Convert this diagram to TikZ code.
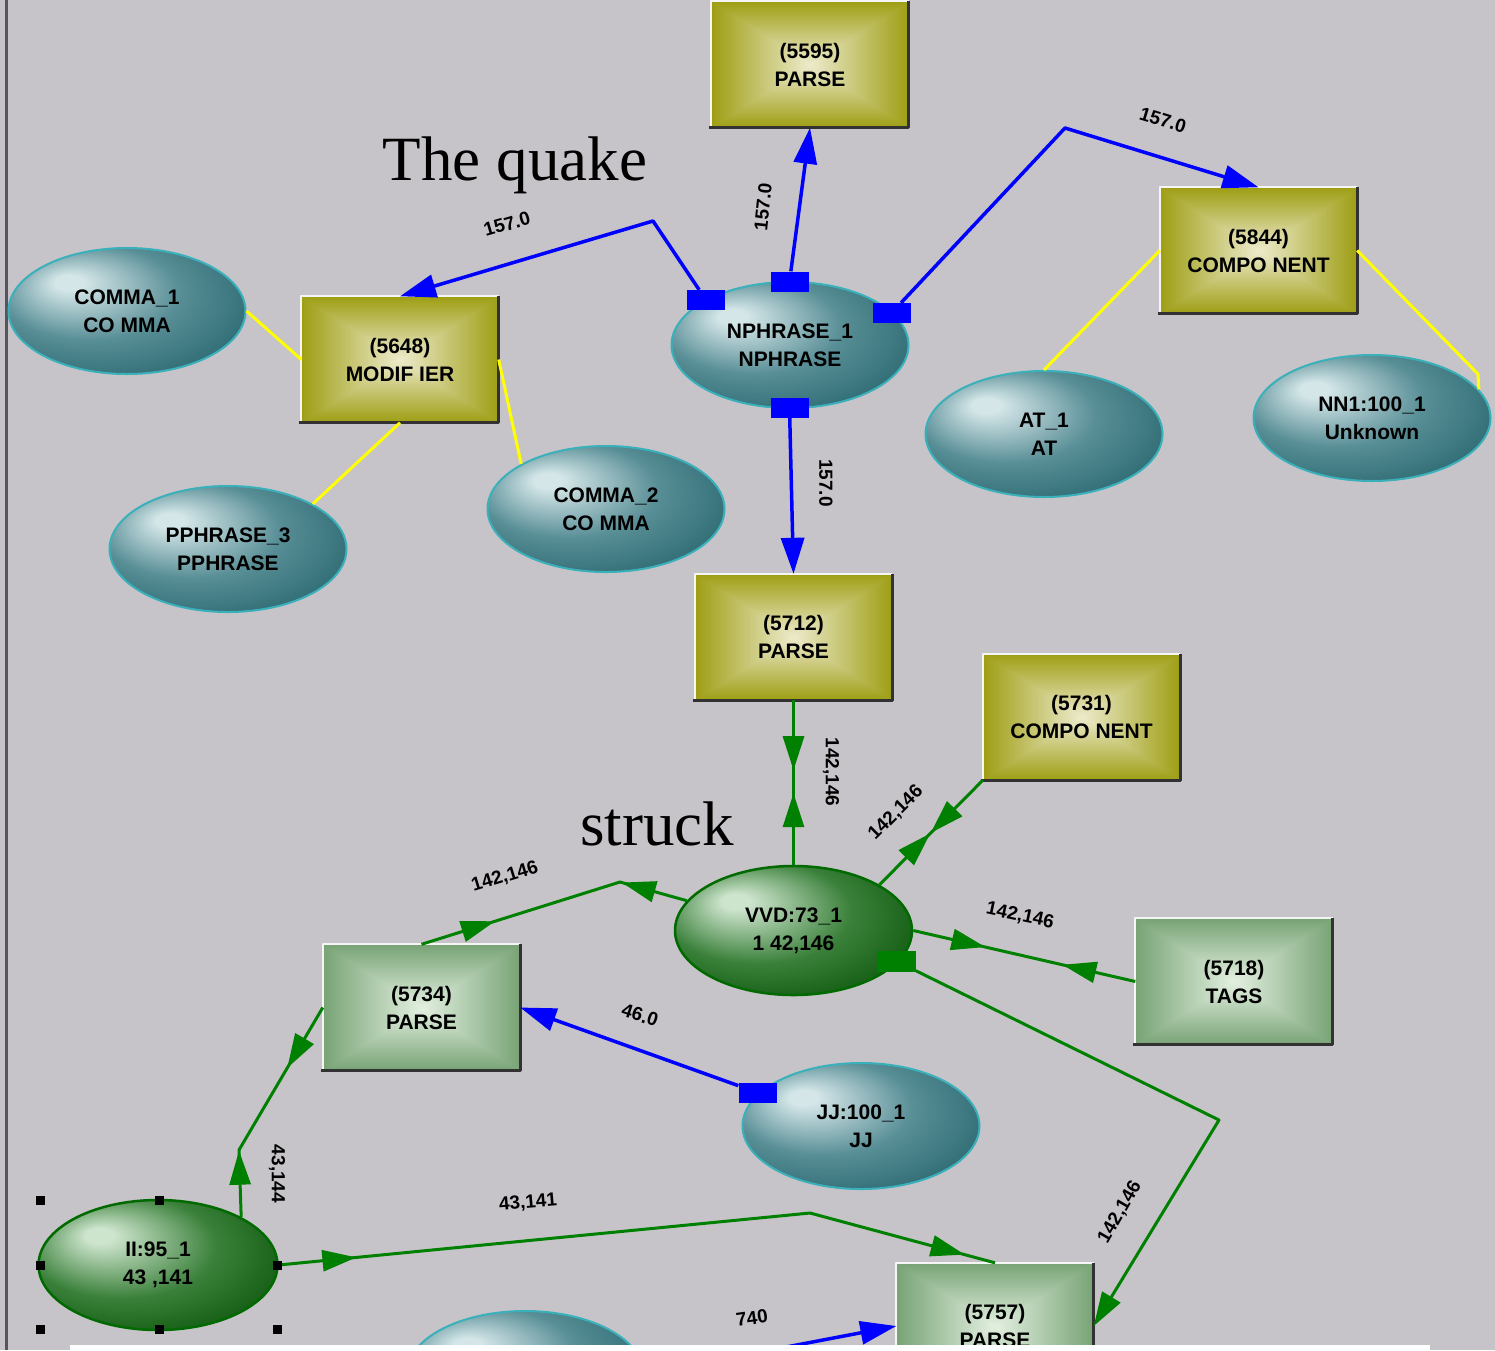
\documentclass[tikz,border=0pt]{standalone}
\usepackage{fontspec}
\setmainfont{Liberation Serif}
\newfontfamily\diagsans{Liberation Sans}
\usetikzlibrary{arrows.meta,decorations.markings,shapes.geometric}

\definecolor{canvas}{RGB}{198,196,200}
\definecolor{frameline}{RGB}{85,85,90}
\definecolor{edgeblue}{RGB}{0,0,255}
\definecolor{edgegreen}{RGB}{0,128,0}
\definecolor{edgeyellow}{RGB}{255,255,0}
\definecolor{tealrim}{RGB}{58,176,186}
\definecolor{tealhi}{RGB}{212,230,232}
\definecolor{tealmid}{RGB}{88,142,150}
\definecolor{tealdeep}{RGB}{38,100,108}
\definecolor{greenrim}{RGB}{0,105,0}
\definecolor{greenhi}{RGB}{205,228,205}
\definecolor{greenmid}{RGB}{58,128,58}
\definecolor{greendeep}{RGB}{10,84,10}
\definecolor{rimlight}{RGB}{245,245,245}
\definecolor{rimdark}{RGB}{50,50,50}

% pyramid shading for the rectangular boxes: colour depends on max(|x|,|y|)
\pgfdeclarefunctionalshading{oliveplate}{\pgfpoint{-50bp}{-50bp}}{\pgfpoint{50bp}{50bp}}{}{
  abs exch abs 2 copy gt {pop} {exch pop} ifelse
  25 div dup 1 gt {pop 1} if
  dup -0.31 mul 0.93 add exch
  dup -0.30 mul 0.92 add exch
  -0.72 mul 0.80 add
}
\pgfdeclarefunctionalshading{sageplate}{\pgfpoint{-50bp}{-50bp}}{\pgfpoint{50bp}{50bp}}{}{
  abs exch abs 2 copy gt {pop} {exch pop} ifelse
  25 div dup 1 gt {pop 1} if
  dup -0.42 mul 0.89 add exch
  dup -0.30 mul 0.94 add exch
  -0.42 mul 0.88 add
}
% glossy balls for the ellipses, lit from the upper left
\pgfdeclareradialshading{tealball}{\pgfpoint{-13bp}{12bp}}{%
  color(0bp)=(tealhi); color(3bp)=(tealhi); color(19bp)=(tealmid);
  color(36bp)=(tealdeep); color(50bp)=(tealdeep)}
\pgfdeclareradialshading{greenball}{\pgfpoint{-13bp}{12bp}}{%
  color(0bp)=(greenhi); color(3bp)=(greenhi); color(20bp)=(greenmid);
  color(36bp)=(greendeep); color(50bp)=(greendeep)}

\begin{document}
\begin{tikzpicture}[x=1pt,y=-1pt,
  line join=round,
  btip/.tip={Triangle[length=36pt,width=23pt]},
  gtip/.tip={Triangle[length=34pt,width=21pt]},
  nodetext/.style={font=\diagsans\bfseries\fontsize{21}{28}\selectfont, align=center, text=black},
  olivenode/.style={nodetext, rectangle, inner sep=0pt, minimum width=197pt, minimum height=126pt, shading=oliveplate},
  sagenode/.style={nodetext, rectangle, inner sep=0pt, minimum width=197pt, minimum height=126pt, shading=sageplate},
  tealnode/.style={nodetext, ellipse, inner sep=0pt, minimum width=237pt, minimum height=126pt, shading=tealball, draw=tealrim, line width=2pt},
  darknode/.style={nodetext, ellipse, inner sep=0pt, minimum width=237pt, minimum height=129pt, shading=greenball, draw=greenrim, line width=2.5pt},
  blueport/.style={rectangle, fill=edgeblue, inner sep=0pt, minimum width=38pt, minimum height=20pt},
  greenport/.style={rectangle, fill=edgegreen, inner sep=0pt, minimum width=38pt, minimum height=20pt},
  blueedge/.style={draw=edgeblue, line width=3.5pt},
  greenedge/.style={draw=edgegreen, line width=3pt},
  yellowedge/.style={draw=edgeyellow, line width=3pt},
  fwd/.style={postaction={decorate, decoration={markings, mark=at position #1 with {\arrow{gtip}}}}},
  bwd/.style={postaction={decorate, decoration={markings, mark=at position #1 with {\arrowreversed{gtip}}}}},
  elabel/.style={font=\diagsans\bfseries\fontsize{19}{19}\selectfont, inner sep=0pt, text=black},
  bigword/.style={font=\fontsize{63}{63}\selectfont, inner sep=0pt, anchor=base, text=black},
  handle/.style={fill=black}
]
\useasboundingbox (0,0) rectangle (1495,1350);
\clip (0,0) rectangle (1495,1350);
\fill[canvas] (0,0) rectangle (1495,1350);
\draw[frameline, line width=3pt] (6,0) -- (6,1350);

% ---- boxes ----
\node[olivenode] (b5595) at (810,64.5)   {(5595)\\PARSE};
\node[olivenode] (mod)   at (400,359.5)  {(5648)\\MODIF IER};
\node[olivenode] (c5844) at (1258.5,250.5) {(5844)\\COMPO NENT};
\node[olivenode] (p5712) at (793.5,637)  {(5712)\\PARSE};
\node[olivenode] (c5731) at (1081.5,717) {(5731)\\COMPO NENT};
\node[sagenode]  (t5718) at (1234,981.5) {(5718)\\TAGS};
\node[sagenode]  (p5734) at (421.5,1007.5) {(5734)\\PARSE};
\node[sagenode]  (p5757) at (995,1326)   {(5757)\\PARSE};

% raised edges of the boxes
\foreach \n in {b5595,mod,c5844,p5712,c5731,t5718,p5734,p5757}{
  \draw[rimlight, line width=2pt] (\n.south west) -- (\n.north west) -- (\n.north east);
  \draw[rimdark, line width=3pt] ([xshift=-2pt]\n.south west) -- (\n.south east) -- (\n.north east);
}

% ---- ellipses ----
\node[tealnode] (comma1) at (127,311)   {COMMA\_1\\CO MMA};
\node[tealnode] (nph)    at (790,345)   {NPHRASE\_1\\NPHRASE};
\node[tealnode] (pph)    at (228,549)   {PPHRASE\_3\\PPHRASE};
\node[tealnode] (comma2) at (606,509)   {COMMA\_2\\CO MMA};
\node[tealnode] (at1)    at (1044,434)  {AT\_1\\AT};
\node[tealnode] (nn1)    at (1372,418)  {NN1:100\_1\\Unknown};
\node[tealnode] (jj)     at (861,1126)  {JJ:100\_1\\JJ};
\node[tealnode] (nb)     at (525,1374)  {};
\node[darknode] (vvd)    at (793.5,930.5) {VVD:73\_1\\1 42,146};
\node[darknode, minimum width=239pt, minimum height=130pt] (ii) at (158,1265) {II:95\_1\\43 ,141};

% ---- bend points ----
\coordinate (k1) at (653,221);
\coordinate (k2) at (1065,128);
\coordinate (k3) at (620,882);
\coordinate (k5) at (1219,1120);
\coordinate (k6) at (239,1150);
\coordinate (k7) at (810,1213);
\coordinate (k8) at (1478,374);

% ---- ports ----
\node[blueport] (pW) at (706,300) {};
\node[blueport] (pN) at (789.5,281.5) {};
\node[blueport] (pE) at (891.5,313) {};
\node[blueport] (pS) at (789.5,408) {};
\node[blueport] (pJ) at (757.5,1092.5) {};
\node[greenport, minimum width=39pt, minimum height=21pt] (gV) at (896,961) {};

% ---- yellow links ----
\draw[yellowedge] (comma1.east) -- (mod.west);
\draw[yellowedge] (mod.south) -- (pph.28);
\draw[yellowedge] (mod.east) -- (comma2.152);
\draw[yellowedge] (c5844.west) -- (at1.north);
\draw[yellowedge] (c5844.east) -- (k8) -- (nn1.15);

% ---- blue links ----
\draw[blueedge, -{btip}] (pW) -- (k1) -- (mod.north);
\draw[blueedge, -{btip}] (pN) -- (b5595.south);
\draw[blueedge, -{btip}] (pE) -- (k2) -- (c5844.north);
\draw[blueedge, -{btip}] (pS) -- (p5712.north);
\draw[blueedge, -{btip}] (pJ) -- (p5734.east);
\draw[blueedge, -{btip}] (nb.east) -- (p5757.west);

% ---- green links ----
\draw[greenedge, fwd=70pt, bwd=93pt] (p5712.south) -- (vvd.north);
\draw[greenedge, fwd=74pt, bwd=75pt] (c5731.south west) -- (vvd.28);
\draw[greenedge, fwd=77pt, bwd=210pt] (p5734.north) -- (k3) -- (vvd);
\draw[greenedge, fwd=74pt, bwd=153pt] (vvd.east) -- (t5718.west);
\draw[greenedge, -{gtip}] (gV) -- (k5) -- (p5757.east);
\draw[greenedge, fwd=70pt, bwd=166pt] (p5734.west) -- (k6) -- (ii.30);
\draw[greenedge, fwd=78pt, fwd=694pt] (ii.east) -- (k7) -- (p5757.north);

% ---- link labels ----
\node[elabel, rotate=16]  (l1)  at (507,224)  {157.0};
\node[elabel, rotate=84]  (l2)  at (763,207)  {157.0};
\node[elabel, rotate=-17] (l3)  at (1163,120) {157.0};
\node[elabel, rotate=-90] (l4)  at (826,483)  {157.0};
\node[elabel, rotate=-90] (l5)  at (831,772)  {142,146};
\node[elabel, rotate=45]  (l6)  at (896,813)  {142,146};
\node[elabel, rotate=17]  (l7)  at (505,877)  {142,146};
\node[elabel, rotate=-12] (l8)  at (1020,916) {142,146};
\node[elabel, rotate=60]  (l9)  at (1120,1212) {142,146};
\node[elabel, rotate=-18] (l10) at (640,1015) {46.0};
\node[elabel, rotate=5]   (l11) at (528,1203) {43,141};
\node[elabel, rotate=-90] (l12) at (277,1174) {43,144};
\node[elabel, rotate=8]   (l13) at (752,1318) {740};

% ---- words of the sentence ----
\node[bigword] (w1) at (515,180) {The quake};
\node[bigword] (w2) at (657,845) {struck};

% ---- selection handles round II:95_1 ----
\foreach \hx/\hy in {40/1200,159/1200,40/1265,277/1265,40/1329,159/1329,277/1329}{
  \fill[handle] (\hx-4.5,\hy-4.5) rectangle (\hx+4.5,\hy+4.5);
}

% strip along the lower edge
\fill[white] (70,1345) rectangle (1430,1351);
\end{tikzpicture}
\end{document}
